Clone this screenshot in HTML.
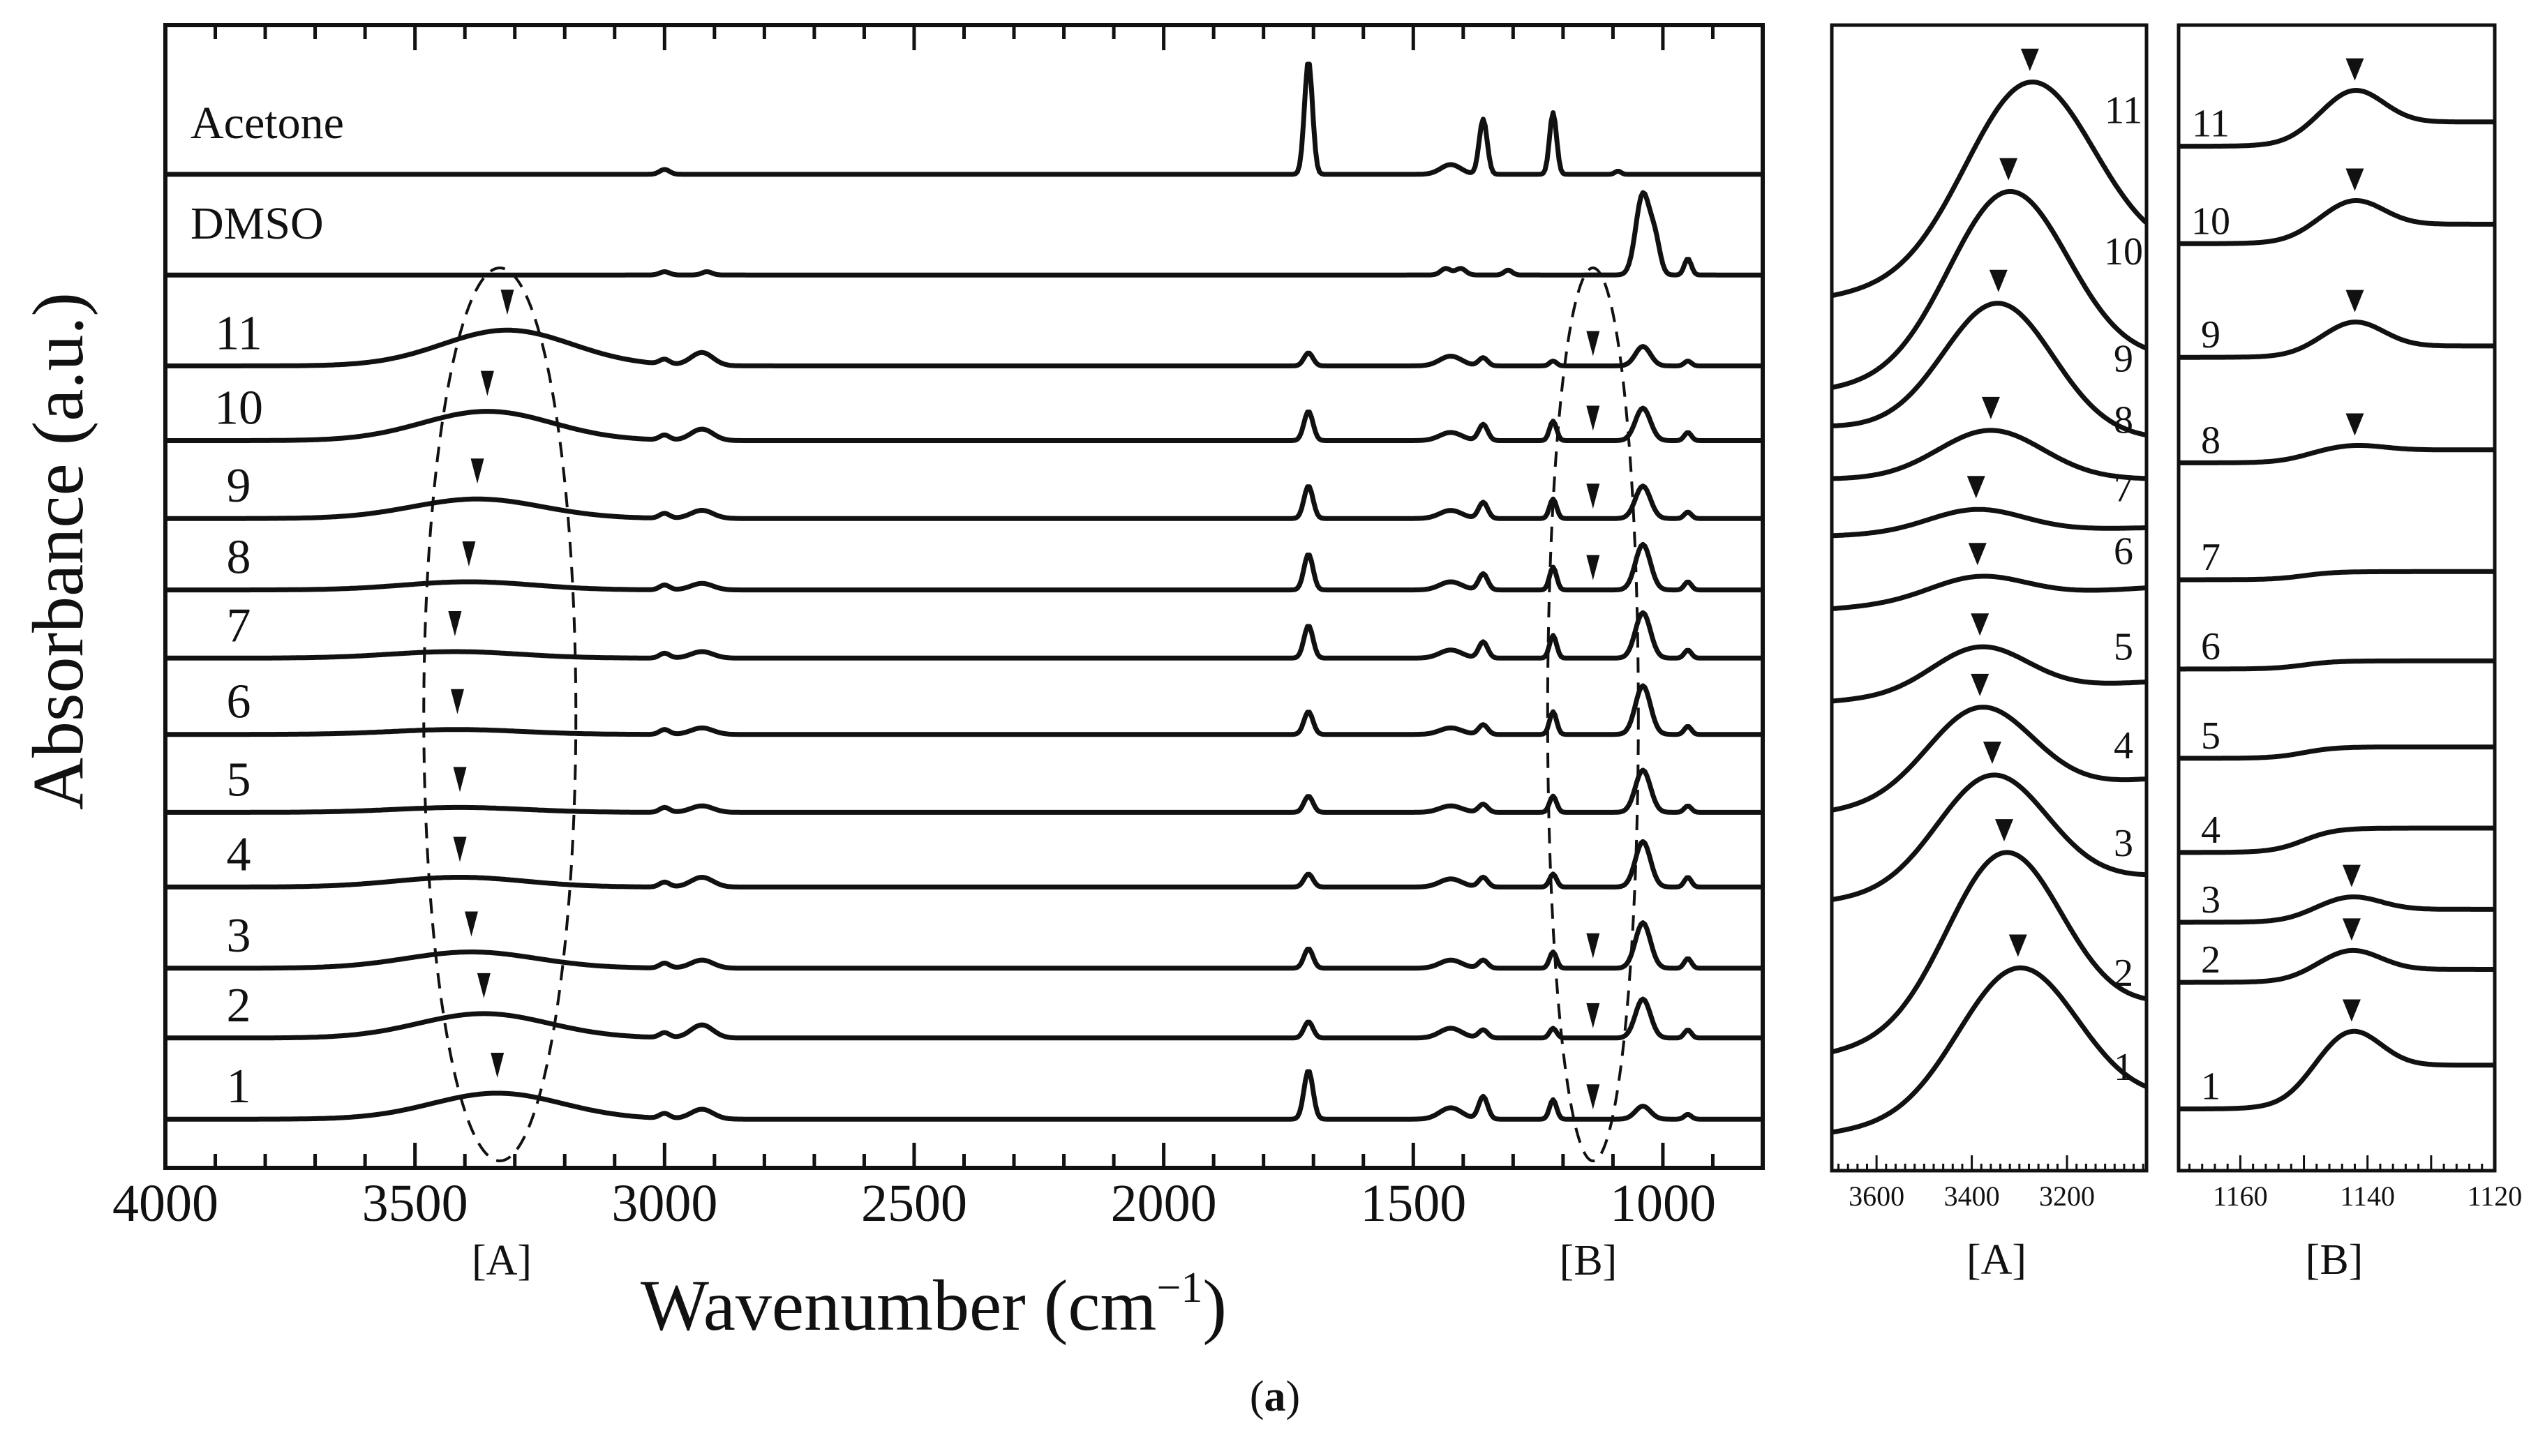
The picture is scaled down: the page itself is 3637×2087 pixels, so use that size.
<!DOCTYPE html>
<html><head><meta charset="utf-8"><style>
html,body{margin:0;padding:0;background:#fff;}
svg{display:block;font-family:"Liberation Serif","DejaVu Serif",serif;}
</style></head><body>
<svg id="chart" width="3637" height="2087" viewBox="0 0 3637 2087" xmlns="http://www.w3.org/2000/svg">
<rect width="3637" height="2087" fill="#fff"/>
<g id="main"></g>
<g id="pa"></g>
<g id="pb"></g>
<text x="0" y="0" transform="translate(118,790) rotate(-90)" text-anchor="middle" font-size="104" fill="#111">Absorbance (a.u.)</text>
<text x="1338" y="1906" text-anchor="middle" font-size="104" fill="#111">Wavenumber (cm<tspan dy="-40" font-size="62">−1</tspan><tspan dy="40">)</tspan></text>
<text x="1827" y="2022" text-anchor="middle" font-size="62" fill="#111">(<tspan font-weight="bold">a</tspan>)</text>
</svg>
<script>
// ---- data (heights in a.u.; 1 a.u. ≈ 2.327 px) ----
const sampleNames = ["1","2","3","4","5","6","7","8","9","10","11"];
const stackOffset = [30,80,123,173,219,267,314,356,400,448,494];
const ohH   = [16,15,10,6,3,3,4,5,12,18,22];
const ohC   = [3303,3332,3357,3383,3383,3388,3391,3360,3344,3323,3278];
const ohMain= [3335,3362,3387,3410,3410,3415,3420,3392,3375,3355,3315];
const ch3000= [3,3,3,3,3,3,3,3,3,3,3];
const ch2920= [6,8,5,6,4,4,4,4,5,7,8];
const co1710= [30,10,12,8,10,14,20,22,20,18,8];
const b1430 = [7,6,5,5,4,4,5,5,5,5,6];
const b1360 = [14,5,5,6,5,6,10,10,10,10,5];
const b1220 = [12,6,10,8,10,14,14,14,12,12,3];
const so1040= [8,24,28,28,26,30,28,28,20,20,12];
const b950  = [3,5,6,6,4,5,5,5,4,5,3];
const bArrow= [1,1,1,0,0,0,0,1,1,1,1];
const refNames = ["Acetone","DMSO"];
const refOffset = [612,550];
const acetoneBands = [[3000,3,10],[1710,70,8],[1425,6,20],[1360,34,8],[1220,38,7],[1090,2,6]];
const dmsoBands = [[3000,2,10],[2915,2,10],[1435,4,10],[1405,4,10],[1310,3,8],[1040,50,14],[1015,18,10],[950,10,7]];
const mainTicksMajor = [4000,3500,3000,2500,2000,1500,1000];
// panel A
const aLeft  = [23,72,166,221,289,346,391,426,458,481,538];
const aRight = [43,101,181,241,301,359,396,426,451,499,561];
const aAmp   = [90,108,70,55,28,14,14,30,80,112,118];
const aSig   = [125,120,115,110,100,100,100,110,115,125,135];
const aLabelLift = [30,30,30,30,32,34,38,66,96,138,196];
const aTicks = [3600,3400,3200];
// panel B
const bLeft  = [38,116,153,196,254,309,364,436,501,571,631];
const bRight = [65,124,161,211,261,314,369,444,508,583,646];
const bAmp   = [22,12,8,0,0,0,0,3,15,15,20];
const bCenter= [1142.5,1142.5,1142.5,1142,1142,1142,1142,1142,1142,1142,1142];
const bTicks = [1160,1140,1120];

const NS="http://www.w3.org/2000/svg";
function el(tag,attrs,parent){const e=document.createElementNS(NS,tag);for(const k in attrs)e.setAttribute(k,attrs[k]);parent.appendChild(e);return e;}
const g=(x,c,s)=>Math.exp(-0.5*((x-c)/s)**2);
const U=2.327;

// ---- main panel ----
const M={l:237,r:2526,t:36,b:1674,x0:4000,x1:800};
const mx=w=>M.l+(M.x0-w)/(M.x0-M.x1)*(M.r-M.l);
const my=v=>M.b-v*U;
const main=document.getElementById('main');
function spec(i,w){return ohH[i]*g(w,ohMain[i],130)+ch3000[i]*g(w,3000,10)+ch2920[i]*g(w,2925,22)+co1710[i]*g(w,1710,9)+b1430[i]*g(w,1425,22)+b1360[i]*g(w,1360,9)+b1220[i]*g(w,1220,7)+so1040[i]*g(w,1040,15)+b950[i]*g(w,950,7);}
function bandSpec(b,w){let s=0;for(const q of b)s+=q[1]*g(w,q[0],q[2]);return s;}
function drawPath(parent,fn,name){let d="";for(let w=M.x0;w>=M.x1;w-=4){d+=(d?"L":"M")+mx(w).toFixed(1)+","+fn(w).toFixed(1);}
 const p=el('path',{d:d,fill:'none',stroke:'#111','stroke-width':7,'stroke-linejoin':'round'},parent);
 
 return p;}
function arrow(parent,x,y,w,h,name){const p=el('polygon',{points:`${x-w/2},${y-h} ${x+w/2},${y-h} ${x},${y}`,fill:'#111'},parent);
 
 }
function label(parent,x,y,txt,size,anchor,name){const t=el('text',{x:x,y:y,'font-size':size,'text-anchor':anchor,fill:'#111'},parent);t.textContent=txt;
 
 }
refNames.forEach((n,k)=>{const bands=k===0?acetoneBands:dmsoBands;
 drawPath(main,w=>my(refOffset[k]+bandSpec(bands,w)),'spectrum-'+n.toLowerCase());
 label(main,273,my(refOffset[k])-52,n,66,'start','label-'+n.toLowerCase());});
sampleNames.forEach((n,i)=>{
 drawPath(main,w=>my(stackOffset[i]+spec(i,w)),'spectrum-'+n);
 label(main,342,my(stackOffset[i])-24,n,70,'middle','label-sample-'+n);
 const top=my(stackOffset[i]+spec(i,ohMain[i]));
 arrow(main,mx(ohMain[i]),top-22,19,36,'arrow-a-'+n);
 if(bArrow[i]){const tb=my(stackOffset[i]+spec(i,1140));arrow(main,mx(1140),tb-14,19,36,'arrow-b-'+n);}
});
el('ellipse',{cx:mx(3330),cy:1024,rx:109,ry:640,fill:'none',stroke:'#111','stroke-width':4,'stroke-dasharray':'22,14'},main);
el('ellipse',{cx:mx(1140),cy:1024,rx:65,ry:640,fill:'none',stroke:'#111','stroke-width':4,'stroke-dasharray':'22,14'},main);
el('rect',{x:M.l,y:M.t,width:M.r-M.l,height:M.b-M.t,fill:'none',stroke:'#111','stroke-width':6},main);
for(let w=4000;w>=800;w-=100){const maj=w%500===0;const L=maj?36:20;
 el('line',{x1:mx(w),x2:mx(w),y1:M.b,y2:M.b-L,stroke:'#111','stroke-width':5},main);
 el('line',{x1:mx(w),x2:mx(w),y1:M.t,y2:M.t+L,stroke:'#111','stroke-width':5},main);}
mainTicksMajor.forEach(w=>label(main,mx(w),1750,String(w),76,'middle','x-tick-'+w));
label(main,719,1827,'[A]',62,'middle','region-a-label');
label(main,2276,1827,'[B]',62,'middle','region-b-label');

// ---- panel A ----
const A={l:2625,r:3076,t:36,b:1678,x0:3694,x1:3033};
const ax=w=>A.l+(A.x0-w)/(A.x0-A.x1)*(A.r-A.l);
const ay=v=>A.b-v*U;
const pa=document.getElementById('pa');
function aVal(i,w){const f=(A.x0-w)/(A.x0-A.x1);return aLeft[i]+(aRight[i]-aLeft[i])*f+aAmp[i]*g(w,ohC[i],aSig[i]);}
sampleNames.forEach((n,i)=>{let d="";for(let w=A.x0;w>=A.x1;w-=3){d+=(d?"L":"M")+ax(w).toFixed(1)+","+ay(aVal(i,w)).toFixed(1);}
 const p=el('path',{d:d,fill:'none',stroke:'#111','stroke-width':7},pa);
 
 
 arrow(pa,ax(ohC[i]),ay(aVal(i,ohC[i]))-16,26,32,'panel-a-arrow-'+n);
 label(pa,3043,ay(aRight[i])-aLabelLift[i],n,56,'middle','panel-a-label-'+n);});
el('rect',{x:A.l,y:A.t,width:A.r-A.l,height:A.b-A.t,fill:'none',stroke:'#111','stroke-width':5},pa);
for(let w=3680;w>=A.x1;w-=20){const maj=w%200===0;el('line',{x1:ax(w),x2:ax(w),y1:A.b,y2:A.b-(maj?22:10),stroke:'#111','stroke-width':3},pa);}
aTicks.forEach(w=>label(pa,ax(w),1728,String(w),40,'middle','panel-a-tick-'+w));
label(pa,2861,1826,'[A]',62,'middle','panel-a-title');

// ---- panel B ----
const B={l:3122,r:3575,t:36,b:1678,x0:1169.7,x1:1120};
const bx=w=>B.l+(B.x0-w)/(B.x0-B.x1)*(B.r-B.l);
const pb=document.getElementById('pb');
function bVal(i,w){const s=1/(1+Math.exp(-(1150-w)/2.5));return bLeft[i]+(bRight[i]-bLeft[i])*s+bAmp[i]*g(w,bCenter[i],4.5);}
sampleNames.forEach((n,i)=>{let d="";for(let w=B.x0;w>=B.x1;w-=0.25){d+=(d?"L":"M")+bx(w).toFixed(1)+","+ay(bVal(i,w)).toFixed(1);}
 const p=el('path',{d:d,fill:'none',stroke:'#111','stroke-width':7},pb);
 
 
 if(bAmp[i]>0)arrow(pb,bx(bCenter[i]),ay(bVal(i,bCenter[i]))-14,26,32,'panel-b-arrow-'+n);
 label(pb,3168,ay(bLeft[i])-14,n,56,'middle','panel-b-label-'+n);});
el('rect',{x:B.l,y:B.t,width:B.r-B.l,height:B.b-B.t,fill:'none',stroke:'#111','stroke-width':5},pb);
for(let w=1168;w>=1120;w-=2){const maj=w%10===0;el('line',{x1:bx(w),x2:bx(w),y1:B.b,y2:B.b-(maj?22:10),stroke:'#111','stroke-width':3},pb);}
bTicks.forEach(w=>label(pb,bx(w),1728,String(w),40,'middle','panel-b-tick-'+w));
label(pb,3345,1826,'[B]',62,'middle','panel-b-title');
</script>
</body></html>
